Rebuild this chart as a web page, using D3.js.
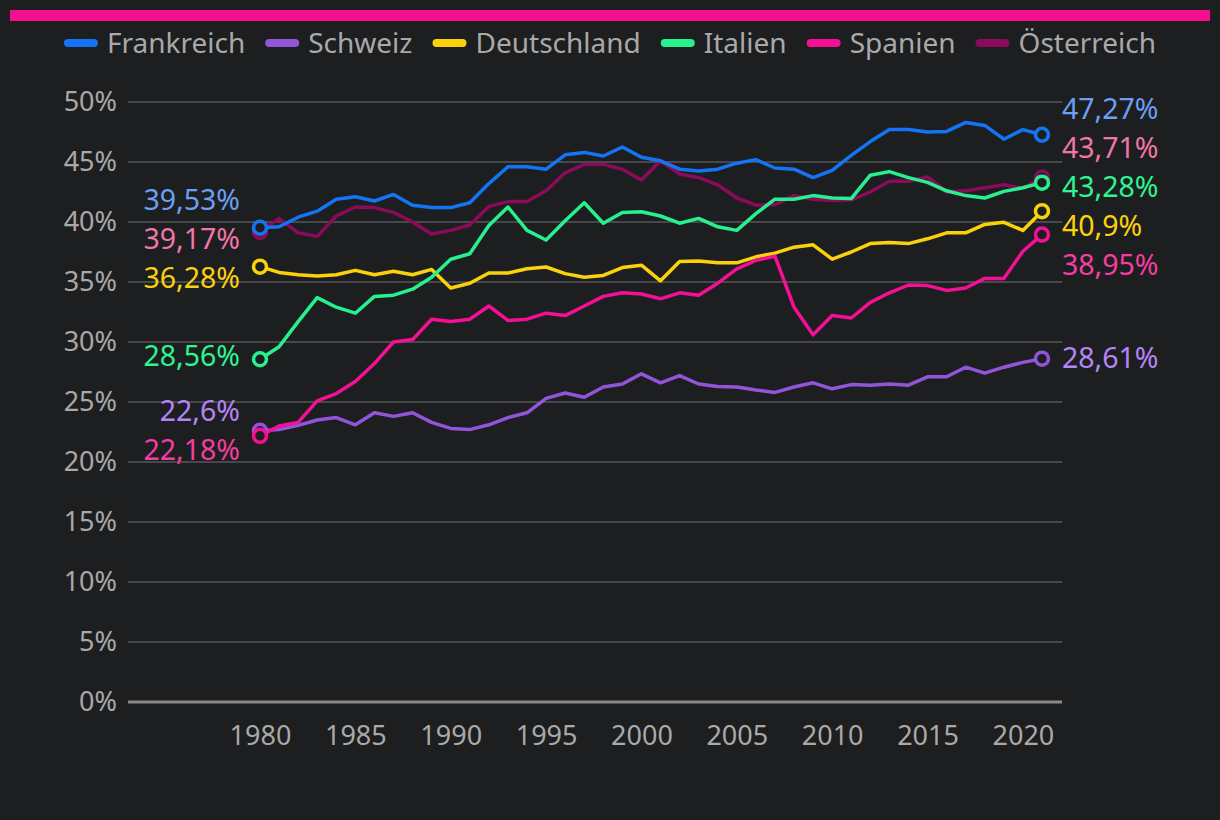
<!DOCTYPE html>
<html>
<head>
<meta charset="utf-8">
<script src="https://cdn.jsdelivr.net/npm/d3@7"></script>
<style>
  body { margin: 0; background: #1d1e20; }
  svg { display: block; font-family: "Noto Sans", sans-serif; }
</style>
</head>
<body>
<svg id="chart" width="1220" height="820"></svg>
<script>
// values, share in percent, 1980 to 2021
var years = d3.range(1980, 2022);

var frankreich = [39.53, 39.6, 40.4, 40.9, 41.9, 42.1, 41.75, 42.3, 41.4, 41.2,
  41.2, 41.6, 43.2, 44.6, 44.6, 44.4, 45.6, 45.8, 45.5, 46.25,
  45.4, 45.1, 44.4, 44.25, 44.4, 44.9, 45.2, 44.5, 44.4, 43.7,
  44.3, 45.55, 46.7, 47.7, 47.7, 47.5, 47.55, 48.3, 48.05, 46.9,
  47.7, 47.27];
var schweiz = [22.6, 22.7, 23.05, 23.5, 23.7, 23.1, 24.1, 23.8, 24.1, 23.3,
  22.8, 22.7, 23.1, 23.7, 24.1, 25.3, 25.75, 25.4, 26.25, 26.5,
  27.35, 26.6, 27.2, 26.5, 26.3, 26.25, 26.0, 25.8, 26.25, 26.6,
  26.1, 26.45, 26.4, 26.5, 26.4, 27.1, 27.1, 27.9, 27.4, 27.9,
  28.3, 28.61];
var deutschland = [36.28, 35.8, 35.6, 35.5, 35.6, 35.97, 35.6, 35.9, 35.6, 36.05,
  34.5, 34.9, 35.75, 35.75, 36.1, 36.25, 35.7, 35.4, 35.55, 36.2,
  36.4, 35.1, 36.7, 36.75, 36.6, 36.6, 37.1, 37.4, 37.9, 38.1,
  36.9, 37.5, 38.2, 38.3, 38.2, 38.6, 39.1, 39.1, 39.8, 39.97,
  39.3, 40.9];
var italien = [28.56, 29.6, 31.7, 33.7, 32.9, 32.4, 33.8, 33.9, 34.4, 35.4,
  36.9, 37.35, 39.7, 41.25, 39.3, 38.5, 40.1, 41.6, 39.9, 40.8,
  40.85, 40.5, 39.9, 40.3, 39.6, 39.3, 40.7, 41.9, 41.9, 42.2,
  42.0, 41.95, 43.9, 44.2, 43.7, 43.3, 42.6, 42.2, 42.0, 42.55,
  42.85, 43.28];
var spanien = [22.18, 23.0, 23.3, 25.1, 25.7, 26.7, 28.2, 30.0, 30.2, 31.9,
  31.7, 31.9, 33.0, 31.8, 31.9, 32.4, 32.2, 33.0, 33.8, 34.1,
  34.0, 33.6, 34.1, 33.9, 34.9, 36.1, 36.8, 37.15, 32.9, 30.6,
  32.2, 32.0, 33.3, 34.1, 34.75, 34.7, 34.3, 34.5, 35.3, 35.3,
  37.56, 38.95];
var oesterreich = [39.17, 40.3, 39.1, 38.8, 40.5, 41.25, 41.2, 40.8, 40.0, 39.0,
  39.3, 39.75, 41.3, 41.7, 41.7, 42.6, 44.1, 44.8, 44.8, 44.4,
  43.5, 45.1, 44.0, 43.7, 43.1, 42.0, 41.4, 41.45, 42.2, 41.9,
  41.8, 41.85, 42.5, 43.4, 43.4, 43.75, 42.5, 42.6, 42.85, 43.1,
  42.8, 43.71];

var names = ["Frankreich", "Schweiz", "Deutschland", "Italien", "Spanien", "Österreich"];
var lineColors = ["#1375f5", "#9254d8", "#fad20c", "#27f08e", "#f50f95", "#8c0a5a"];
var labelColors = ["#6b9ff5", "#b585f5", "#fad20c", "#2ef590", "#f53d9f", "#f075a8"];
var yTicks = [0, 5, 10, 15, 20, 25, 30, 35, 40, 45, 50];
var xTicks = [1980, 1985, 1990, 1995, 2000, 2005, 2010, 2015, 2020];

var seriesValues = [frankreich, schweiz, deutschland, italien, spanien, oesterreich];
var series = names.map(function(n, i) {
  return { name: n, color: lineColors[i], labelColor: labelColors[i],
    values: seriesValues[i].map(function(v, j) { return { year: years[j], value: v }; }) };
});
// drawing order: lowest layer first
var drawOrder = ["Österreich", "Schweiz", "Deutschland", "Italien", "Spanien", "Frankreich"];

var svg = d3.select("#chart");
var W = 1220, H = 820;
var margin = { top: 102, right: 158, bottom: 118, left: 128 };

svg.append("rect").attr("width", W).attr("height", H).attr("fill", "#1d1e20");

// pink bar on top
svg.append("rect").attr("x", 10).attr("y", 10).attr("width", 1200).attr("height", 11).attr("fill", "#f50f8f");

var x = d3.scaleLinear().domain([1973.08, 2022.05]).range([margin.left, W - margin.right]);
var y = d3.scaleLinear().domain([0, 50]).range([H - margin.bottom, margin.top]);

// grid
svg.append("g").selectAll("line")
  .data(yTicks.filter(function(d) { return d > 0; }))
  .enter().append("line")
    .attr("x1", x.range()[0]).attr("x2", x.range()[1])
    .attr("y1", function(d) { return y(d); }).attr("y2", function(d) { return y(d); })
    .attr("stroke", "#55575a").attr("stroke-width", 1.5);

svg.append("line")
  .attr("x1", x.range()[0]).attr("x2", x.range()[1])
  .attr("y1", y(0)).attr("y2", y(0))
  .attr("stroke", "#8a8a8a").attr("stroke-width", 3);

// y axis labels
var yAxis = d3.axisLeft(y).tickValues(yTicks).tickSize(0).tickPadding(11)
  .tickFormat(function(d) { return d + "%"; });
var gy = svg.append("g").attr("transform", "translate(" + margin.left + ",0)").call(yAxis);
gy.select(".domain").remove();
gy.selectAll("text").attr("fill", "#a9a9a9").attr("font-size", 27).attr("font-family", "Noto Sans");

// x axis labels
var xAxis = d3.axisBottom(x).tickValues(xTicks).tickSize(0).tickPadding(24).tickFormat(d3.format("d"));
var gx = svg.append("g").attr("transform", "translate(0," + y(0) + ")").call(xAxis);
gx.select(".domain").remove();
gx.selectAll("text").attr("fill", "#a9a9a9").attr("font-size", 27).attr("font-family", "Noto Sans");

// lines
var line = d3.line()
  .x(function(d) { return x(d.year); })
  .y(function(d) { return y(d.value); });

var ordered = drawOrder.map(function(n) { return series.find(function(s) { return s.name == n; }); });

svg.append("g").selectAll("path")
  .data(ordered)
  .enter().append("path")
    .attr("d", function(d) { return line(d.values); })
    .attr("fill", "none")
    .attr("stroke", function(d) { return d.color; })
    .attr("stroke-width", 3.5)
    .attr("stroke-linejoin", "round");

// end point circles
ordered.forEach(function(s) {
  var ends = [s.values[0], s.values[s.values.length - 1]];
  svg.append("g").selectAll("circle")
    .data(ends)
    .enter().append("circle")
      .attr("cx", function(d) { return x(d.year); })
      .attr("cy", function(d) { return y(d.value); })
      .attr("r", 6.5)
      .attr("fill", "#1d1e20")
      .attr("stroke", s.color)
      .attr("stroke-width", 3.5);
});

// spread labels so they don't overlap
function dodge(items, gap) {
  items.sort(function(a, b) { return a.y - b.y; });
  for (var k = 0; k < 200; k++) {
    var moved = false;
    for (var i = 1; i < items.length; i++) {
      var diff = items[i].y - items[i - 1].y;
      if (diff < gap) {
        var push = (gap - diff) / 2;
        items[i - 1].y -= push;
        items[i].y += push;
        moved = true;
      }
    }
    if (!moved) break;
  }
  return items;
}

function fmt(v) { return String(v).replace(".", ",") + "%"; }

var leftItems = dodge(series.map(function(s) {
  return { s: s, v: s.values[0].value, y: y(s.values[0].value) };
}), 39);
var rightItems = dodge(series.map(function(s) {
  var last = s.values[s.values.length - 1];
  return { s: s, v: last.value, y: y(last.value) };
}), 39);

svg.append("g").selectAll("text")
  .data(leftItems)
  .enter().append("text")
    .attr("x", x(1980) - 20)
    .attr("y", function(d) { return d.y - 3; })
    .attr("dy", "0.35em")
    .attr("text-anchor", "end")
    .attr("font-size", 28.5)
    .attr("fill", function(d) { return d.s.labelColor; })
    .text(function(d) { return fmt(d.v); });

svg.append("g").selectAll("text")
  .data(rightItems)
  .enter().append("text")
    .attr("x", x(2021) + 20)
    .attr("y", function(d) { return d.y - 1; })
    .attr("dy", "0.35em")
    .attr("font-size", 28.5)
    .attr("fill", function(d) { return d.s.labelColor; })
    .text(function(d) { return fmt(d.v); });

// legend
var legend = svg.append("g");
var lx = 0;
series.forEach(function(s) {
  var item = legend.append("g").attr("transform", "translate(" + lx + ",0)");
  item.append("line")
    .attr("x1", 4).attr("x2", 30).attr("y1", 0).attr("y2", 0)
    .attr("stroke", s.color).attr("stroke-width", 8).attr("stroke-linecap", "round");
  var t = item.append("text")
    .attr("x", 43).attr("dy", "0.35em")
    .attr("font-size", 28).attr("fill", "#a9a9a9")
    .text(s.name);
  lx += 43 + t.node().getComputedTextLength() + 20;
});
lx -= 20;
legend.attr("transform", "translate(" + ((W - lx) / 2) + ",43)");
</script>
</body>
</html>
